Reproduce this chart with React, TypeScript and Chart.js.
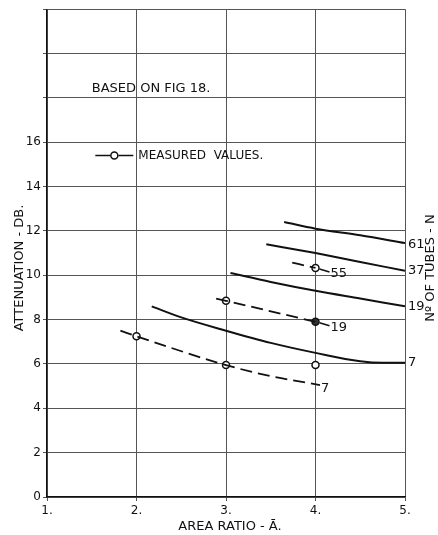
import React, { useEffect, useRef } from "react";
import { Chart, registerables } from "chart.js";

Chart.register(...registerables);

// Theoretical curves (solid) — number of tubes N
const n61X = [3.65, 4.0, 4.5, 5.0];
const n61Y = [12.4, 12.1, 11.8, 11.45];
const n37X = [3.45, 4.0, 4.5, 5.0];
const n37Y = [11.4, 11.0, 10.6, 10.2];
const n19X = [3.05, 3.5, 4.0, 4.5, 5.0];
const n19Y = [10.1, 9.7, 9.3, 8.95, 8.6];
const n7X = [2.17, 2.5, 3.0, 3.5, 4.0, 4.5, 4.75, 5.0];
const n7Y = [8.6, 8.1, 7.5, 6.95, 6.5, 6.12, 6.05, 6.05];

// Measured curves (dashed)
const m55X = [3.74, 4.0];
const m55Y = [10.57, 10.33];
const m19X = [2.89, 3.0, 4.0];
const m19Y = [8.95, 8.85, 7.9];
const m7X = [1.82, 2.0, 3.0, 3.5, 4.05];
const m7Y = [7.5, 7.25, 5.95, 5.45, 5.05];

// Measured values (circles)
const measX = [2, 3, 3, 4, 4, 4];
const measY = [7.25, 5.95, 8.85, 7.9, 10.33, 5.95];

// Curve labels
const solidLabels = ["61", "37", "19", "7"];
const dashedLabels = ["55", "19", "7"];

const xTickLabels = ["1.", "2.", "3.", "4.", "5."];
const yTickLabels = ["0", "2", "4", "6", "8", "10", "12", "14", "16"];

const FONT = "'DejaVu Sans', sans-serif";

const pts = (xs: number[], ys: number[]) => xs.map((x, i) => ({ x, y: ys[i] }));

export default function App() {
  const ref = useRef<HTMLCanvasElement | null>(null);

  useEffect(() => {
    document.body.style.margin = "0";
    const canvas = ref.current;
    if (!canvas) return;

    const solid = (xs: number[], ys: number[]) => ({
      type: "line" as const,
      data: pts(xs, ys),
      borderColor: "#111",
      borderWidth: 2,
      pointRadius: 0,
      cubicInterpolationMode: "monotone" as const,
      fill: false,
    });
    const dashed = (xs: number[], ys: number[]) => ({
      type: "line" as const,
      data: pts(xs, ys),
      borderColor: "#111",
      borderWidth: 1.8,
      borderDash: [12, 6],
      pointRadius: 0,
      cubicInterpolationMode: "monotone" as const,
      fill: false,
    });

    const annot = {
      id: "annot",
      afterDatasetsDraw(chart: any) {
        const { ctx, scales, chartArea } = chart;
        const xs = scales.x;
        const ys = scales.y;
        ctx.save();
        ctx.fillStyle = "#111";
        ctx.strokeStyle = "#111";
        ctx.font = `13px ${FONT}`;
        ctx.textBaseline = "middle";
        ctx.textAlign = "left";

        // solid curve labels at right end
        const solidSets = [
          [n61X, n61Y],
          [n37X, n37Y],
          [n19X, n19Y],
          [n7X, n7Y],
        ];
        solidSets.forEach(([sx, sy], i) => {
          const px = xs.getPixelForValue(sx[sx.length - 1]);
          const py = ys.getPixelForValue(sy[sy.length - 1]);
          ctx.fillText(solidLabels[i], px + 3, py + (i === 0 ? 2 : 0));
        });

        // dashed curve labels with leader line
        const dashedSets = [
          [m55X, m55Y],
          [m19X, m19Y],
          [m7X, m7Y],
        ];
        dashedSets.forEach(([sx, sy], i) => {
          const px = xs.getPixelForValue(sx[sx.length - 1]);
          const py = ys.getPixelForValue(sy[sy.length - 1]);
          ctx.lineWidth = 1.5;
          if (i < 2) {
            ctx.beginPath();
            ctx.moveTo(px + 4, py + 1);
            ctx.lineTo(px + 14, py + 4);
            ctx.stroke();
            ctx.fillText(dashedLabels[i], px + 15, py + 6);
          } else {
            ctx.fillText(dashedLabels[i], px + 1, py + 4);
          }
        });

        // annotation texts
        ctx.fillText("BASED ON FIG 18.", xs.getPixelForValue(1.5), ys.getPixelForValue(18.4));
        const ly = ys.getPixelForValue(15.4);
        const lx = xs.getPixelForValue(1.54);
        ctx.lineWidth = 1.5;
        ctx.beginPath();
        ctx.moveTo(lx, ly);
        ctx.lineTo(lx + 15, ly);
        ctx.moveTo(lx + 23, ly);
        ctx.lineTo(lx + 38, ly);
        ctx.stroke();
        ctx.beginPath();
        ctx.arc(lx + 19, ly, 3.5, 0, Math.PI * 2);
        ctx.stroke();
        ctx.font = `12px ${FONT}`;
        ctx.fillText("MEASURED  VALUES.", lx + 43, ly);
        ctx.font = `13px ${FONT}`;

        // axis titles
        ctx.textAlign = "center";
        ctx.fillText("AREA RATIO - Ā.", (chartArea.left + chartArea.right) / 2 + 4, 527);
        ctx.save();
        ctx.translate(20, 268);
        ctx.rotate(-Math.PI / 2);
        ctx.fillText("ATTENUATION - DB.", 0, 0);
        ctx.restore();
        ctx.save();
        ctx.translate(431, 268);
        ctx.rotate(-Math.PI / 2);
        ctx.fillText("Nº OF TUBES - N", 0, 0);
        ctx.restore();

        ctx.restore();
      },
    };

    const chart = new Chart(canvas, {
      type: "line",
      data: {
        datasets: [
          solid(n61X, n61Y),
          solid(n37X, n37Y),
          solid(n19X, n19Y),
          solid(n7X, n7Y),
          dashed(m55X, m55Y),
          dashed(m19X, m19Y),
          dashed(m7X, m7Y),
          {
            type: "scatter" as const,
            data: pts(measX, measY),
            showLine: false,
            pointRadius: 3.5,
            pointBorderWidth: 1.5,
            pointBorderColor: "#111",
            pointBackgroundColor: (c: any) => (c.dataIndex === 3 ? "#333" : "#fff"),
          } as any,
        ],
      },
      options: {
        responsive: false,
        animation: false,
        layout: { padding: { top: 8, right: 33, left: 0, bottom: 0 } },
        plugins: {
          legend: { display: false },
          tooltip: { enabled: false },
        },
        scales: {
          x: {
            type: "linear",
            min: 1,
            max: 5,
            ticks: {
              stepSize: 1,
              color: "#111",
              padding: 3,
              font: { family: FONT, size: 12 },
              callback: (v: any) => xTickLabels[Math.round(Number(v)) - 1] ?? "",
            },
            grid: { color: "#555", lineWidth: 1, tickLength: 4 },
            border: { color: "#111", width: 1.3 },
            afterFit: (s: any) => {
              s.height = 38;
            },
          },
          y: {
            type: "linear",
            min: 0,
            max: 22,
            ticks: {
              stepSize: 2,
              color: "#111",
              padding: 2,
              font: { family: FONT, size: 12 },
              callback: (v: any) => yTickLabels[Math.round(Number(v) / 2)] ?? "",
            },
            grid: { color: "#555", lineWidth: 1, tickLength: 4 },
            border: { color: "#111", width: 1.3 },
            afterFit: (s: any) => {
              s.width = 47;
            },
          },
        },
      },
      plugins: [annot],
    });

    return () => chart.destroy();
  }, []);

  return <canvas ref={ref} width={438} height={535} style={{ display: "block" }} />;
}
